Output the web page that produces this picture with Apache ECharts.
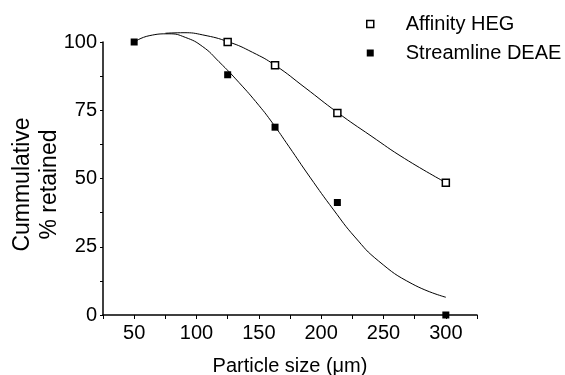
<!DOCTYPE html>
<html>
<head>
<meta charset="utf-8">
<script src="https://cdn.jsdelivr.net/npm/echarts@6/dist/echarts.min.js"></script>
<style>html,body{margin:0;padding:0;background:#fff;}#c{width:565px;height:375px;}</style>
</head>
<body>
<div id="c"></div>
<script>
// Measured data points
const affX = [125, 163, 213, 300];
const affY = [100, 91.5, 74, 48.4];
const strX = [50, 125, 163, 213, 300];
const strY = [100, 88, 68.8, 41.2, 0];
// Fitted curves
const affFitX = [75, 90, 105, 126, 145, 163, 187, 213, 240, 267, 300];
const affFitY = [103.2, 103.4, 102.6, 100, 96.2, 91.5, 83.3, 74.2, 65.6, 57.3, 48.5];
const strFitX = [50, 62, 78, 91, 105, 118, 134, 150, 161, 174, 191, 210, 227, 246, 273, 300];
const strFitY = [100, 102.3, 103, 101.7, 98.3, 92.8, 85.2, 76.8, 70.3, 61.8, 50.5, 38.5, 28.6, 19.8, 11.4, 6.5];
const xTicks = [50, 100, 150, 200, 250, 300];
const yTicks = [0, 25, 50, 75, 100];

const pair = (xs, ys) => xs.map((x, i) => [x, ys[i]]);
const font = '"Liberation Sans", Arial, sans-serif';

const chart = echarts.init(document.getElementById('c'), null, {renderer: 'canvas'});
chart.setOption({
  animation: false,
  backgroundColor: '#fff',
  grid: {left: 103, right: 88, top: 42, bottom: 60, containLabel: false, outerBoundsMode: 'none'},
  legend: {
    orient: 'vertical', left: 361, top: 9, itemWidth: 7, itemHeight: 7, itemGap: 9,
    textStyle: {fontFamily: font, fontSize: 20, color: '#000', lineHeight: 20, padding: [0, 0, 0, 27]},
    data: [
      {name: 'Affinity HEG', icon: 'rect', itemStyle: {color: '#fff', borderColor: '#000', borderWidth: 1.5}},
      {name: 'Streamline DEAE', icon: 'rect', itemStyle: {color: '#000', borderWidth: 0}}
    ]
  },
  xAxis: {
    type: 'value', min: 25, max: 325, interval: 25,
    name: 'Particle size (\u03bcm)', nameLocation: 'middle', nameGap: 41, nameMoveOverlap: false,
    nameTextStyle: {fontFamily: font, fontSize: 20, color: '#000'},
    axisLine: {lineStyle: {color: '#000', width: 1.5}},
    axisTick: {inside: false, length: 4, lineStyle: {color: '#000', width: 1}},
    axisLabel: {fontFamily: font, fontSize: 20, color: '#000', margin: 8,
      formatter: v => xTicks.includes(v) ? String(v) : ''},
    splitLine: {show: false}
  },
  yAxis: {
    type: 'value', min: 0, max: 100, interval: 12.5,
    name: 'Cummulative\n% retained', nameLocation: 'middle', nameGap: 40, nameRotate: 90, nameMoveOverlap: false,
    nameTextStyle: {fontFamily: font, fontSize: 23, color: '#000', lineHeight: 27, padding: [0, 12, 0, 0]},
    axisLine: {lineStyle: {color: '#000', width: 1.5}},
    axisTick: {inside: false, length: 3, lineStyle: {color: '#000', width: 1}},
    axisLabel: {fontFamily: font, fontSize: 20, color: '#000', margin: 6,
      formatter: v => yTicks.includes(v) ? String(v) : ''},
    splitLine: {show: false}
  },
  series: [
    {name: 'Affinity HEG fit', type: 'line', data: pair(affFitX, affFitY), smooth: true, showSymbol: false,
     clip: false, lineStyle: {color: '#000', width: 1}, z: 2},
    {name: 'Streamline DEAE fit', type: 'line', data: pair(strFitX, strFitY), smooth: true, showSymbol: false,
     clip: false, lineStyle: {color: '#000', width: 1}, z: 2},
    {name: 'Affinity HEG', type: 'scatter', data: pair(affX, affY), symbol: 'rect', symbolSize: 7,
     itemStyle: {color: '#fff', borderColor: '#000', borderWidth: 1.5, opacity: 1}, z: 5, clip: false},
    {name: 'Streamline DEAE', type: 'scatter', data: pair(strX, strY), symbol: 'rect', symbolSize: 7,
     itemStyle: {color: '#000', opacity: 1}, z: 5, clip: false}
  ]
});
</script>
</body>
</html>
